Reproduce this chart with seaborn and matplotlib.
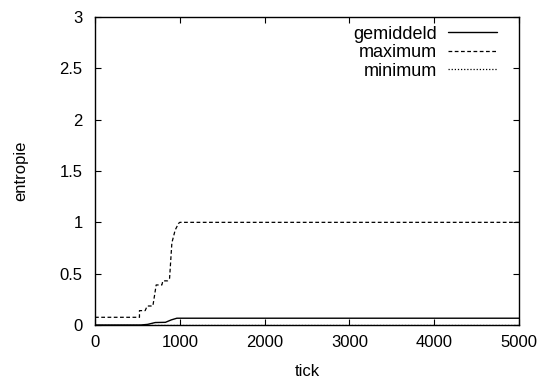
import matplotlib
matplotlib.use("Agg")
import matplotlib.pyplot as plt
import seaborn as sns

sns.set_style("ticks")
plt.rcParams['font.family'] = ['Liberation Sans', 'DejaVu Sans']
plt.rcParams.update({'text.color': 'black', 'axes.labelcolor': 'black',
                     'xtick.color': 'black', 'ytick.color': 'black',
                     'axes.edgecolor': 'black'})

# data
max_tick = [0, 524, 524, 591, 615, 682, 721, 788, 800, 855, 879, 906, 945, 985, 1000, 5000]
max_val  = [0.075, 0.075, 0.14, 0.14, 0.185, 0.185, 0.39, 0.39, 0.43, 0.43, 0.455, 0.8, 0.925, 0.99, 1.0, 1.0]
avg_tick = [0, 540, 620, 710, 830, 900, 965, 5000]
avg_val  = [0.0, 0.0, 0.006, 0.024, 0.026, 0.05, 0.066, 0.066]
min_tick = [0, 5000]
min_val  = [0.0, 0.0]

fig, ax = plt.subplots(figsize=(5.43, 3.79), dpi=100)
fig.subplots_adjust(left=0.175, right=0.956, top=0.955, bottom=0.1425)

sns.lineplot(x=avg_tick, y=avg_val, ax=ax, color='black', lw=1.0, linestyle='-',
             estimator=None, sort=False, label='gemiddeld')
sns.lineplot(x=max_tick, y=max_val, ax=ax, color='black', lw=0.9, linestyle=(0, (3, 2)),
             estimator=None, sort=False, label='maximum')
sns.lineplot(x=min_tick, y=min_val, ax=ax, color='black', lw=0.9, linestyle=(0, (1, 1.5)),
             estimator=None, sort=False, label='minimum')

ax.set_xlim(0, 5000)
ax.set_ylim(0, 3)
ax.set_xticks([0, 1000, 2000, 3000, 4000, 5000])
ax.set_yticks([0, 0.5, 1, 1.5, 2, 2.5, 3])
ax.set_yticklabels(['0', '0.5', '1', '1.5', '2', '2.5', '3'])
ax.tick_params(direction='in', top=True, right=True, length=4, labelsize=12, width=0.8)
ax.tick_params(axis='x', pad=7)
ax.tick_params(axis='y', pad=9)
ax.set_xlabel('tick', fontsize=12, labelpad=10)
ax.set_ylabel('entropie', fontsize=12, labelpad=22.2)
for s in ax.spines.values():
    s.set_linewidth(1.0)

ax.legend(loc='upper right', bbox_to_anchor=(0.965, 0.996), frameon=False,
          markerfirst=False, fontsize=13, handlelength=2.71, labelspacing=0.083,
          borderaxespad=0, handletextpad=0.61)

fig.savefig('out.png', dpi=100)
